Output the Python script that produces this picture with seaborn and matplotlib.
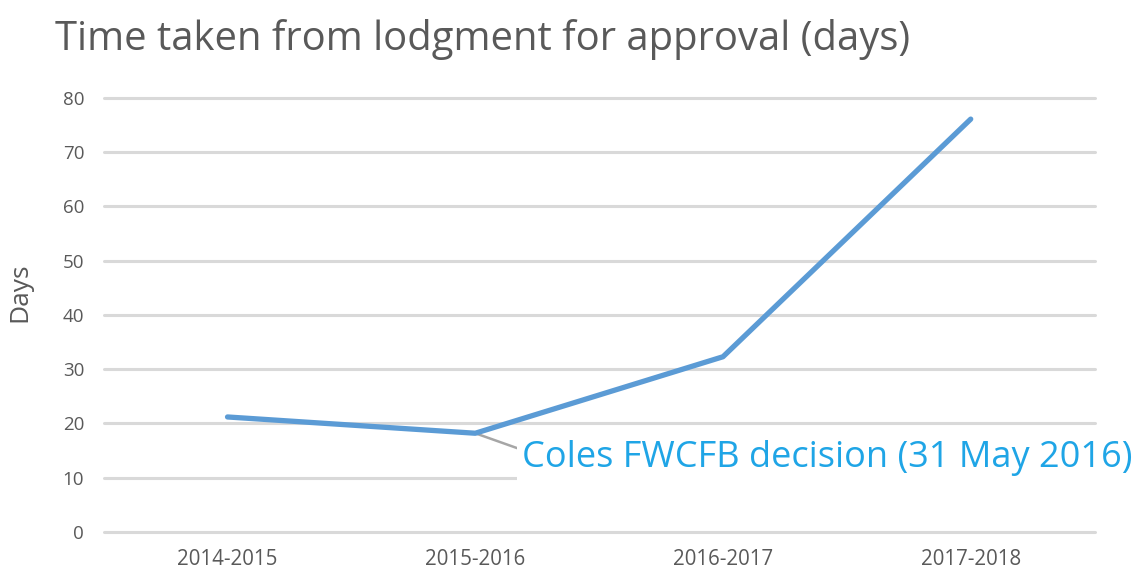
import pandas as pd
import matplotlib.pyplot as plt
import seaborn as sns

years = ['2014-2015', '2015-2016', '2016-2017', '2017-2018']
days = [21.2, 18.2, 32.3, 76.1]

df = pd.DataFrame({'Year': years, 'Days': days})

sns.set_theme(style='white')
plt.rcParams['font.family'] = ['Open Sans', 'DejaVu Sans']

grey = '#595959'
fig = plt.figure(figsize=(11.39, 5.83), dpi=100)
ax = fig.add_axes([0.091, 0.0875, 0.87, 0.7445])

sns.lineplot(data=df, x='Year', y='Days', ax=ax, color='#5B9BD5', linewidth=3.8,
             sort=False, zorder=3)

ax.set_xlim(-0.5, 3.5)
ax.set_ylim(0, 80)
ax.set_yticks(range(0, 81, 10))
ax.yaxis.grid(True, color='#D9D9D9', linewidth=2.2)
ax.set_axisbelow(True)
for gl in ax.get_ygridlines():
    gl.set_clip_on(False)
for s in ax.spines.values():
    s.set_visible(False)
ax.tick_params(axis='both', length=0, colors=grey)
ax.tick_params(axis='x', pad=12, labelsize=14.8)
ax.tick_params(axis='y', pad=14, labelsize=13.5)
ax.set_xlabel('')
ax.set_ylabel('Days', color=grey, fontsize=19)
ax.yaxis.set_label_coords(-0.072, 0.553)

fig.text(0.048, 0.914, 'Time taken from lodgment for approval (days)', fontsize=28.8,
         color=grey, va='baseline', ha='left')

# annotation for the 2015-2016 point
ax.annotate('Coles FWCFB decision (31 May 2016)', xy=(1, days[1]), xytext=(1.19, 12.0),
            textcoords='data', fontsize=26, color='#1FA5E6', va='baseline', ha='left',
            annotation_clip=False,
            bbox=dict(boxstyle='square,pad=0.14', fc='white', ec='none'),
            arrowprops=dict(arrowstyle='-', color='#A6A6A6', lw=1.8, shrinkA=0, shrinkB=0,
                            relpos=(0, 0.72)),
            zorder=2)

fig.savefig('out.png', dpi=100)
